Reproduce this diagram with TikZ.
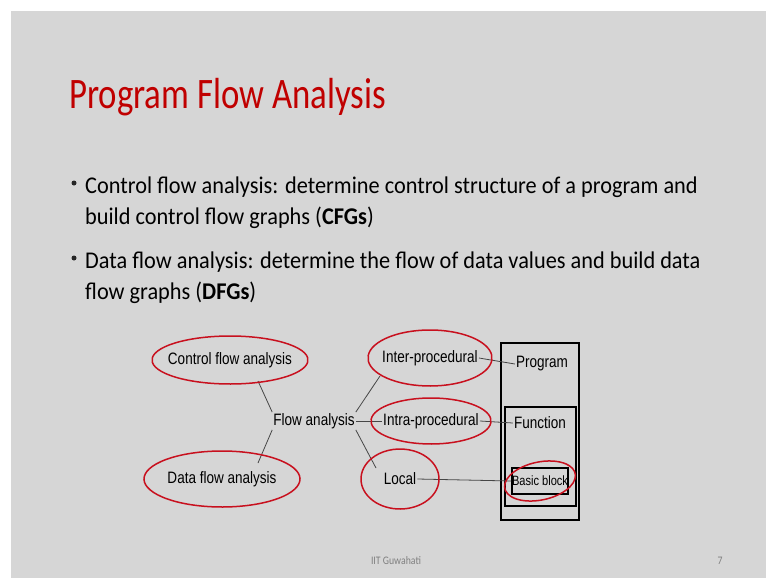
\documentclass[tikz,border=0pt]{standalone}
\usepackage{fontspec}
\setmainfont{Carlito}
\newfontfamily\titlefont[FakeStretch=0.8]{Carlito}
\newfontfamily\bodyfont[FakeStretch=0.93]{Carlito}
\newfontfamily\footfont[FakeStretch=0.85]{Carlito}
\newfontfamily\narrowfont[FakeStretch=0.82]{Liberation Sans}
\usepackage{tikz}
\definecolor{slidegray}{RGB}{214,214,214}
\definecolor{titlered}{RGB}{192,0,0}
\definecolor{inkred}{RGB}{200,16,30}
\definecolor{linkgray}{RGB}{70,70,70}
\definecolor{footgray}{RGB}{128,128,128}

\tikzset{
  lbl/.style={font=\narrowfont\fontsize{16.5}{18}\selectfont, inner sep=1pt},
  link/.style={draw=linkgray, line width=0.8pt},
  hand/.style={draw=inkred, line width=1.5pt},
  box/.style={draw=black, line width=1.6pt, inner sep=0pt},
  bullet/.style={anchor=base west, inner sep=0pt, font=\bodyfont\fontsize{24}{28}\selectfont},
  dot/.style={circle, fill=black!85, inner sep=0pt, minimum size=5pt}
}

\begin{document}
\begin{tikzpicture}[x=1pt,y=-1pt]
  \useasboundingbox (0,0) rectangle (766,578);
  \fill[white] (0,0) rectangle (766,578);
  \fill[slidegray] (11,11) rectangle (766,578);

  % title and bullets
  \node[anchor=base west, inner sep=0pt, text=titlered, font=\titlefont\fontsize{43.5}{50}\selectfont] (title) at (69,109) {Program Flow Analysis};
  \node[dot] (b1) at (74,183) {};
  \node[bullet] (t1) at (85,193) {Control flow analysis: determine control structure of a program and};
  \node[bullet] (t2) at (85,224) {build control flow graphs (\textbf{CFGs})};
  \node[dot] (b2) at (74,258) {};
  \node[bullet] (t3) at (85,268) {Data flow analysis: determine the flow of data values and build data};
  \node[bullet] (t4) at (85,299) {flow graphs (\textbf{DFGs})};

  % boxes
  \node[box, minimum width=78, minimum height=177] (progbox) at (540,431.5) {};
  \node[box, minimum width=71, minimum height=99] (funcbox) at (540.5,456.5) {};

  % diagram labels
  \node[lbl] (cfa) at (230,360) {Control flow analysis};
  \node[lbl] (dfa) at (222,479) {Data flow analysis};
  \node[lbl] (flow) at (314,421) {Flow analysis};
  \node[lbl] (inter) at (430,358) {Inter-procedural};
  \node[lbl] (intra) at (431,421) {Intra-procedural};
  \node[lbl] (local) at (400,479) {Local};
  \node[lbl] (prog) at (542,364) {Program};
  \node[lbl] (func) at (540,423) {Function};
  \node[lbl, box, line width=1.4pt, minimum width=56, minimum height=26, inner sep=0pt] (bb) at (540,481) {\fontsize{13.5}{15}\selectfont Basic block};

  % links
  \draw[link] (258,381) -- (flow.north west);
  \draw[link] (258,463) -- (flow.south west);
  \draw[link] (flow.north east) -- (380,376);
  \draw[link] (flow.east) -- (intra.west);
  \draw[link] (flow.south east) -- (376,468);
  \draw[link] (inter.east) -- (prog.west);
  \draw[link] (intra.east) -- (func.west);
  \draw[link] (local.east) -- (bb.west);

  % red hand rings
  \draw[hand] ([shift={(-40:78 and 24)}]cfa.center) arc[start angle=-40, end angle=335, x radius=78, y radius=24];
  \draw[hand] ([shift={(-40:78 and 28)}]dfa.center) arc[start angle=-40, end angle=335, x radius=78, y radius=28];
  \draw[hand] ([shift={(-40:62 and 28)}]inter.center) arc[start angle=-40, end angle=335, x radius=62, y radius=28];
  \draw[hand] ([shift={(-40:60 and 23)}]intra.center) arc[start angle=-40, end angle=335, x radius=60, y radius=23];
  \draw[hand] ([shift={(-40:39 and 30)}]local.center) arc[start angle=-40, end angle=335, x radius=39, y radius=30];
  \draw[hand, rotate around={12:(bb.center)}] ([shift={(-40:36 and 19)}]bb.center) arc[start angle=-40, end angle=335, x radius=36, y radius=19];

  % footer
  \node[text=footgray, font=\footfont\fontsize{11.5}{13}\selectfont] (foot) at (396,561) {IIT Guwahati};
  \node[text=footgray, font=\footfont\fontsize{11.5}{13}\selectfont] (page) at (720,561) {7};
\end{tikzpicture}
\end{document}
